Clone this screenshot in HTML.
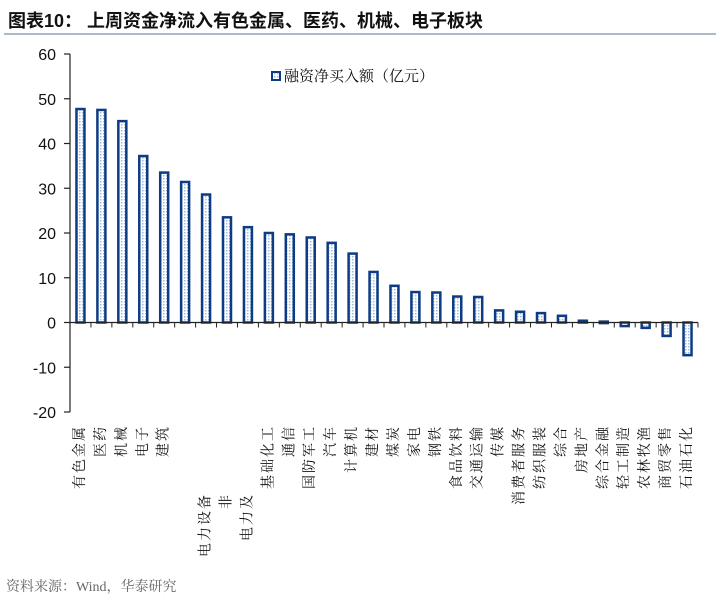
<!DOCTYPE html>
<html><head><meta charset="utf-8"><style>
body{margin:0;background:#fff;}
svg text{font-family:"Liberation Sans","Noto Sans CJK SC",sans-serif;}
svg text.serif{font-family:"Liberation Serif","Noto Serif CJK SC",serif;}
</style></head><body>
<svg width="720" height="604" viewBox="0 0 720 604" xmlns="http://www.w3.org/2000/svg">
<defs>
<pattern id="dots" width="3" height="3" patternUnits="userSpaceOnUse"><rect width="3" height="3" fill="#fff"/><rect x="1" y="1" width="1.5" height="1.5" fill="#9cbbe0"/></pattern>
</defs>
<text x="8" y="27" font-size="18" font-weight="bold" fill="#111">图表10：  上周资金净流入有色金属、医药、机械、电子板块</text>
<line x1="4" y1="34" x2="716" y2="34" stroke="#8fa3bf" stroke-width="1.5"/>
<g id="yaxis"></g>
<g id="bars"></g>
<g id="xaxis"></g>
<g>
<rect x="272" y="72" width="8" height="8" fill="url(#dots)" stroke="#0d3b84" stroke-width="2"/>
<text class="serif" x="284" y="81" font-size="15" fill="#111">融资净买入额（亿元）</text>
</g>
<text class="serif" x="6" y="591" font-size="14" fill="#666">资料来源：Wind，华泰研究</text>
</svg>
<script>
const categories=["有色金属","医药","机械","电子","建筑","","电力设备","非","电力及","基础化工","通信","国防军工","汽车","计算机","建材","煤炭","家电","钢铁","食品饮料","交通运输","传媒","消费者服务","纺织服装","综合","房地产","综合金融","轻工制造","农林牧渔","商贸零售","石油石化"];
const values=[47.7,47.5,45,37.2,33.5,31.4,28.6,23.5,21.3,20,19.7,19,17.8,15.4,11.3,8.2,6.8,6.7,5.8,5.7,2.7,2.4,2.1,1.5,0.4,0.2,-0.8,-1.2,-3,-7.3];
const yTicks=[60,50,40,30,20,10,0,-10,-20];
const ns="http://www.w3.org/2000/svg";
const X0=70,X1=698,Y0=54,Y1=412,YMAX=60,YMIN=-20;
const band=(X1-X0)/categories.length;
function y(v){return Y0+(YMAX-v)/(YMAX-YMIN)*(Y1-Y0);}
function xc(i){return X0+band*(i+0.5);}
function mk(t,a,p){const e=document.createElementNS(ns,t);for(const k in a)e.setAttribute(k,a[k]);p.appendChild(e);return e;}
const ya=document.getElementById('yaxis'),ba=document.getElementById('bars'),xa=document.getElementById('xaxis');
const al=mk('line',{x1:X0,y1:Y0,x2:X0,y2:Y1,stroke:'#222','stroke-width':1.2},ya);


yTicks.forEach(t=>{
 const l=mk('line',{x1:X0-6,x2:X0,y1:y(t),y2:y(t),stroke:'#222','stroke-width':1.2},ya);
 
 
 const tx=mk('text',{x:X0-14,y:y(t)+6,'font-size':16,'text-anchor':'end',fill:'#111'},ya);
 tx.textContent=t;
 
 
});
const xl=mk('line',{x1:X0,x2:X1,y1:y(0),y2:y(0),stroke:'#222','stroke-width':1.2},xa);


for(let i=0;i<=categories.length;i++){
 const l=mk('line',{x1:X0+band*i,x2:X0+band*i,y1:y(0),y2:y(0)+5,stroke:'#222','stroke-width':1},xa);
 
 
}
const low={"电力设备":1,"非":1,"电力及":1};
values.forEach((v,i)=>{
 const w=8,top=Math.min(y(v),y(0)),h=Math.max(Math.abs(y(v)-y(0)),1.5);
 const r=mk('rect',{x:xc(i)-w/2,y:top,width:w,height:h,fill:'url(#dots)',stroke:'#0d3b84','stroke-width':2.5},ba);
 
 
});
categories.forEach((c,i)=>{
 if(!c)return;
 const ty=low[c]?493:425;
 const cx=xc(i);
 const t=mk('text',{x:cx,y:ty,'font-size':14,fill:'#111','text-anchor':'end','dominant-baseline':'central','letter-spacing':'2',class:'serif',transform:'rotate(-90 '+cx+' '+ty+')'},xa);
 t.textContent=c;
 
 
});
</script>
</body></html>
